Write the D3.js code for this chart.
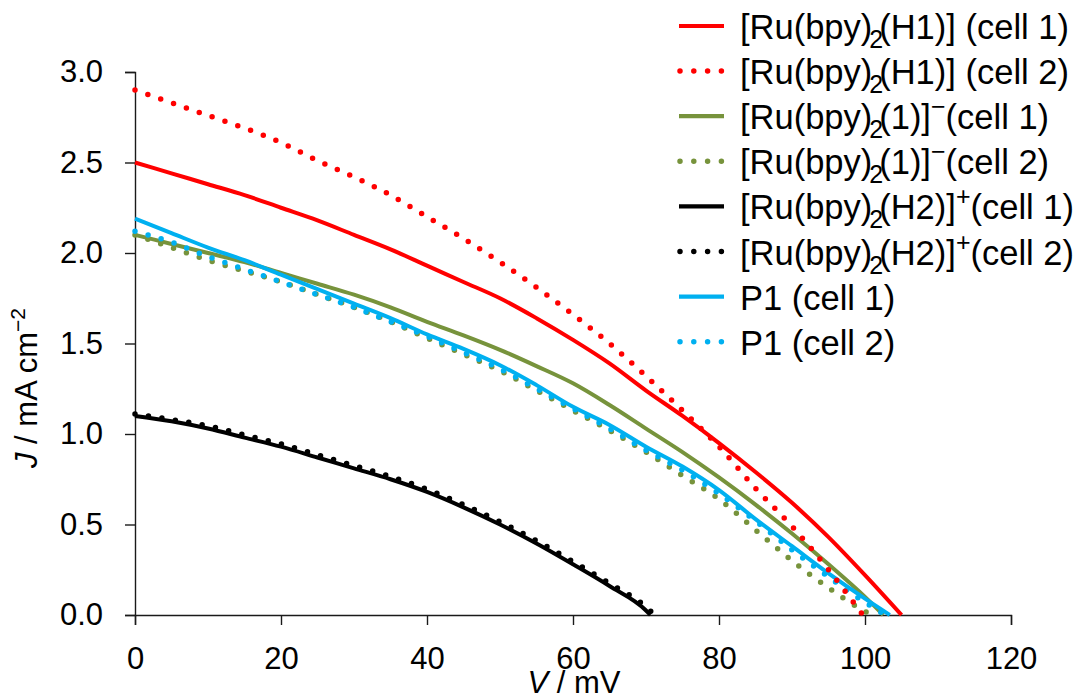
<!DOCTYPE html>
<html>
<head>
<meta charset="utf-8">
<script src="https://cdn.jsdelivr.net/npm/d3@7"></script>
<style>
  html, body { margin: 0; padding: 0; background: #fff; }
  svg { display: block; }
  text { font-family: "Liberation Sans", Arial, sans-serif; fill: #000; }
</style>
</head>
<body>
<svg id="chart" width="1082" height="696"></svg>
<script>
// ---- data (V in mV, J in mA cm^-2) ----
const xTicks = [0, 20, 40, 60, 80, 100, 120];
const yTicks = [0.0, 0.5, 1.0, 1.5, 2.0, 2.5, 3.0];

const vH1c1 = [0,5,10,15,20,25,30,35,40,45,50,55,60,65,70,75,80,85,90,95,100,105];
const jH1c1 = [2.50,2.44,2.38,2.32,2.25,2.18,2.10,2.02,1.93,1.84,1.75,1.64,1.52,1.39,1.24,1.10,0.95,0.79,0.62,0.43,0.22,0.0];

const vH1c2 = [0,5,10,15,20,25,30,35,40,45,50,55,60,65,70,75,80,85,90,95,99.7];
const jH1c2 = [2.90,2.83,2.76,2.69,2.61,2.51,2.42,2.32,2.20,2.08,1.95,1.81,1.66,1.50,1.32,1.13,0.93,0.70,0.49,0.25,0.0];

const v1c1 = [0,5,10,15,20,25,30,35,40,45,50,55,60,65,70,75,80,85,90,95,100,102.5];
const j1c1 = [2.10,2.05,2.00,1.95,1.89,1.83,1.77,1.70,1.62,1.545,1.465,1.375,1.28,1.16,1.03,0.90,0.76,0.61,0.45,0.28,0.10,0.0];

const v1c2 = [0,5,10,15,20,25,30,35,40,45,50,55,60,65,70,75,80,85,90,95,100,101];
const j1c2 = [2.10,2.03,1.96,1.90,1.84,1.77,1.70,1.62,1.53,1.44,1.35,1.24,1.13,1.02,0.90,0.77,0.64,0.47,0.30,0.15,0.02,0.0];

const vH2c1 = [0,5,10,15,20,25,30,35,40,45,50,55,60,65,70,70.6];
const jH2c1 = [1.10,1.07,1.03,0.98,0.93,0.87,0.81,0.75,0.68,0.595,0.50,0.395,0.28,0.16,0.025,0.0];

const vH2c2 = [0,5,10,15,20,25,30,35,40,45,50,55,60,65,70,71.2];
const jH2c2 = [1.11,1.08,1.045,0.995,0.945,0.885,0.825,0.765,0.695,0.61,0.515,0.41,0.295,0.175,0.045,0.0];

const vP1c1 = [0,5,10,15,20,25,30,35,40,45,50,55,60,65,70,75,80,85,90,95,100,103.4];
const jP1c1 = [2.19,2.11,2.03,1.96,1.88,1.80,1.72,1.64,1.55,1.47,1.38,1.27,1.15,1.05,0.93,0.82,0.69,0.53,0.38,0.23,0.09,0.0];

const vP1c2 = [0,5,10,15,20,25,30,35,40,45,50,55,60,65,70,75,80,85,90,95,100,102.8];
const jP1c2 = [2.12,2.06,1.98,1.91,1.84,1.77,1.70,1.62,1.54,1.45,1.36,1.25,1.14,1.03,0.91,0.80,0.67,0.52,0.36,0.21,0.07,0.0];

// legend labels: [main, sub, middle, sup, tail]
const seriesNames = [
  ["[Ru(bpy)", "2", "(H1)] (cell 1)", "", ""],
  ["[Ru(bpy)", "2", "(H1)] (cell 2)", "", ""],
  ["[Ru(bpy)", "2", "(1)]", "\u2212", "(cell 1)"],
  ["[Ru(bpy)", "2", "(1)]", "\u2212", "(cell 2)"],
  ["[Ru(bpy)", "2", "(H2)]", "+", "(cell 1)"],
  ["[Ru(bpy)", "2", "(H2)]", "+", "(cell 2)"],
  ["P1 (cell 1)", "", "", "", ""],
  ["P1 (cell 2)", "", "", "", ""]
];
const seriesColors = ["#FF0000","#FF0000","#77933C","#77933C","#000000","#000000","#00B0F0","#00B0F0"];
const seriesDotted = [false,true,false,true,false,true,false,true];
const seriesV = [vH1c1, vH1c2, v1c1, v1c2, vH2c1, vH2c2, vP1c1, vP1c2];
const seriesJ = [jH1c1, jH1c2, j1c1, j1c2, jH2c1, jH2c2, jP1c1, jP1c2];

// ---- drawing ----
const svg = d3.select("#chart");
const x = d3.scaleLinear().domain([0, 120]).range([135, 1011]);
const y = d3.scaleLinear().domain([0, 3]).range([615, 72]);

const axisColor = "#1a1a1a";
const FONT = '"Liberation Sans", Arial, sans-serif';

// x axis
const gx = svg.append("g").attr("transform", `translate(0,${y(0)})`)
  .call(d3.axisBottom(x).tickValues(xTicks).tickSize(10).tickPadding(22).tickFormat(d3.format("d")));
gx.select(".domain").attr("stroke", axisColor).attr("stroke-width", 1.4);
gx.selectAll(".tick line").attr("stroke", axisColor).attr("stroke-width", 1.4);
gx.selectAll(".tick text").attr("font-size", 31).attr("font-family", FONT).attr("fill", "#000");

// y axis
const gy = svg.append("g").attr("transform", `translate(${x(0)},0)`)
  .call(d3.axisLeft(y).tickValues(yTicks).tickSize(10).tickPadding(22).tickFormat(d3.format(".1f")));
gy.select(".domain").attr("stroke", axisColor).attr("stroke-width", 1.4);
gy.selectAll(".tick line").attr("stroke", axisColor).attr("stroke-width", 1.4);
gy.selectAll(".tick text").attr("font-size", 31).attr("font-family", FONT).attr("fill", "#000");

// series
const line = d3.line().x(d => x(d[0])).y(d => y(d[1])).curve(d3.curveMonotoneX);
const order = [4,5,2,3,6,7,0,1];
order.forEach(i => {
  const pts = seriesV[i].map((v, k) => [v, seriesJ[i][k]]);
  const p = svg.append("path").datum(pts)
    .attr("d", line)
    .attr("fill", "none")
    .attr("stroke", seriesColors[i]);
  if (seriesDotted[i]) {
    p.attr("stroke-width", 5.5).attr("stroke-linecap", "round").attr("stroke-dasharray", "0,13.6");
  } else {
    p.attr("stroke-width", 4).attr("stroke-linejoin", "round");
  }
});

// legend
const leg = svg.append("g");
seriesNames.forEach((nm, i) => {
  const ly = 26 + i * 45.1;
  const sample = leg.append("line")
    .attr("x1", 679).attr("x2", 724).attr("y1", ly).attr("y2", ly)
    .attr("stroke", seriesColors[i]);
  if (seriesDotted[i]) {
    sample.attr("x1", 680).attr("x2", 722).attr("stroke-width", 5.5).attr("stroke-linecap", "round").attr("stroke-dasharray", "0,13.8");
  } else {
    sample.attr("stroke-width", 4.2);
  }
  const t = leg.append("text").attr("x", 740).attr("y", ly + 13).attr("font-size", 34.5);
  t.append("tspan").text(nm[0]);
  if (nm[1]) {
    t.append("tspan").attr("font-size", 25).attr("dy", 9).attr("dx", -3).text(nm[1]);
    t.append("tspan").attr("dy", -9).attr("dx", -4).text(nm[2]);
  }
  if (nm[3]) {
    t.append("tspan").attr("font-size", 25).attr("dy", -14).text(nm[3]);
    t.append("tspan").attr("dy", 14).text(nm[4]);
  }
});

// axis titles
const xl = svg.append("text").attr("x", 574).attr("y", 693).attr("text-anchor", "middle").attr("font-size", 31);
xl.append("tspan").attr("font-style", "italic").text("V");
xl.append("tspan").text(" / mV");

const yl = svg.append("text").attr("transform", "translate(37,388) rotate(-90)").attr("text-anchor", "middle").attr("font-size", 31);
yl.append("tspan").attr("font-style", "italic").text("J");
yl.append("tspan").text(" / mA cm");
yl.append("tspan").attr("font-size", 21).attr("dy", -12).text("\u22122");
</script>
</body>
</html>
